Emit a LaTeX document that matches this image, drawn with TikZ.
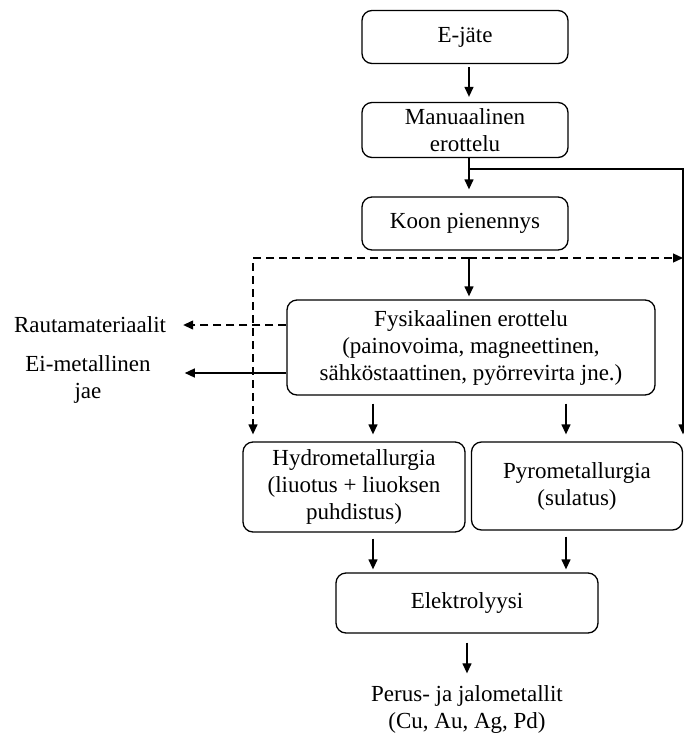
\documentclass[tikz,border=0pt]{standalone}
\usepackage{fontspec}
\setmainfont{Liberation Serif}
\usetikzlibrary{arrows.meta,calc}
\begin{document}
\begin{tikzpicture}[x=1pt,y=-1pt,
  box/.style={draw,line width=1.3pt,rounded corners=10pt,align=center,inner sep=0pt},
  lbl/.style={align=center,inner sep=0pt},
  arr/.style={line width=1.3pt,-{Triangle[length=10pt,width=9pt]}},
  dasharr/.style={arr,dash pattern=on 8pt off 5pt},
  every node/.style={font=\fontsize{23}{27}\selectfont}]
\useasboundingbox (0,0) rectangle (684,740);

% process boxes
\node[box,minimum width=206pt,minimum height=53pt] (ejate) at (465,37) {E-jäte};
\node[box,minimum width=206pt,minimum height=55pt] (manual) at (465,130) {Manuaalinen\\erottelu};
\node[box,minimum width=206pt,minimum height=53pt] (koon) at (465,223.5) {Koon pienennys};
\node[box,minimum width=368pt,minimum height=95pt] (fys) at (471,347.5) {Fysikaalinen erottelu\\(painovoima, magneettinen,\\sähköstaattinen, pyörrevirta jne.)};
\node[box,minimum width=222pt,minimum height=90pt] (hydro) at (354,487) {Hydrometallurgia\\(liuotus + liuoksen\\puhdistus)};
\node[box,minimum width=211pt,minimum height=88pt] (pyro) at (577,486) {Pyrometallurgia\\(sulatus)};
\node[box,minimum width=262pt,minimum height=60pt] (elek) at (467,603) {Elektrolyysi};

% outputs
\node[lbl] (rauta) at (90,325) {Rautamateriaalit};
\node[lbl] (eimet) at (88,379.5) {Ei-metallinen\\jae};
\node[lbl] (perus) at (467,709.5) {Perus- ja jalometallit\\(Cu, Au, Ag, Pd)};

% guide coordinates
\coordinate (ax) at (469,0);
\coordinate (hx) at (373,0);
\coordinate (px) at (566,0);
\coordinate (br) at (469,169);
\coordinate (dl) at (253,258);
\coordinate (dm) at (469,258);
\coordinate (dr) at (683,258);
\coordinate (rr) at (683,169);

% main line
\draw[arr,shorten <=3pt,shorten >=5pt] (ejate.south -| ax) -- (manual.north -| ax);
\draw[arr,shorten >=7pt] (manual.south -| ax) -- (koon.north -| ax);
\draw[arr,shorten >=3pt] (dm) -- (fys.north -| ax);

% bypass to pyrometallurgy
\draw[arr,shorten >=7pt] (br) -- (rr) -- (pyro.north east -| rr);

% dashed bypass after size reduction
\draw[dasharr] (dm) -- (dl) -- ([yshift=7pt]hydro.north -| dl);
\draw[dasharr] (dm) -- (dr);

% side streams
\draw[dasharr] (fys.west |- rauta) -- ($(rauta.east)+(17,0)$);
\draw[arr] ($(fys.west |- eimet)+(0,-6.5)$) -- ($(eimet.east)+(34,-6.5)$);

% to metallurgy
\draw[arr,shorten <=8pt,shorten >=7pt] (fys.south -| hx) -- (hydro.north -| hx);
\draw[arr,shorten <=8pt,shorten >=7pt] (fys.south -| px) -- (pyro.north -| px);

% to electrolysis
\draw[arr,shorten <=6pt,shorten >=3pt] (hydro.south -| hx) -- (elek.north -| hx);
\draw[arr,shorten <=6pt,shorten >=3pt] (pyro.south -| px) -- (elek.north -| px);

% final product
\draw[arr,shorten <=9pt,shorten >=12pt] (elek.south) -- (perus.north);
\end{tikzpicture}
\end{document}
